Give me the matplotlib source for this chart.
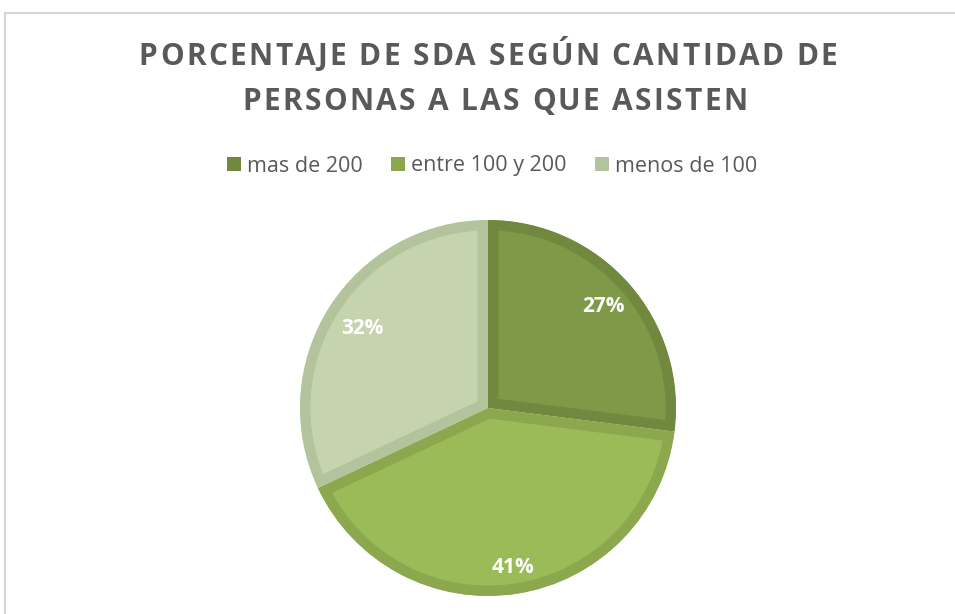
import numpy as np
import matplotlib.pyplot as plt
from matplotlib.lines import Line2D
from matplotlib.font_manager import FontProperties, findfont
from matplotlib.ft2font import FT2Font

categorias = ['mas de 200', 'entre 100 y 200', 'menos de 100']
porcentajes = [27, 41, 32]
etiquetas = ['27%', '41%', '32%']
titulo = ['PORCENTAJE DE SDA SEGÚN CANTIDAD DE', 'PERSONAS A LAS QUE ASISTEN']

relleno = ['#7E9A48', '#9BBB59', '#C5D4AC']
borde = ['#71893F', '#8BA84F', '#B3C49C']
radio_etiqueta = [0.82, 0.86, 0.79]

plt.rcParams['font.family'] = ['Open Sans', 'DejaVu Sans']

DPI = 100
fig = plt.figure(figsize=(9.55, 6.14), dpi=DPI)
fig.patch.set_facecolor('white')


def texto_espaciado(s, xc, yc, size, tracking, **kw):
    # matplotlib no tiene letter-spacing: se coloca letra a letra
    fp = FontProperties(family='Open Sans', weight='bold')
    ft = FT2Font(findfont(fp))
    ft.set_size(size, DPI)
    adv = []
    for ch in s:
        g = ft.load_char(ord(ch))
        adv.append(g.linearHoriAdvance / 65536)
    total = sum(adv) + tracking * (len(s) - 1)
    x = xc - total / 2
    for ch, a in zip(s, adv):
        fig.text(x / 955, 1 - yc / 614, ch, ha='left', va='center',
                 fontsize=size, fontweight='bold', **kw)
        x += a + tracking


# marco del grafico (arriba e izquierda)
fig.add_artist(Line2D([5 / 955, 5 / 955], [0, 1 - 13 / 614], color='#D6D6D6', lw=1.5))
fig.add_artist(Line2D([5 / 955, 1], [1 - 13 / 614, 1 - 13 / 614], color='#D6D6D6', lw=1.5))

texto_espaciado(titulo[0], 488, 57, 21.5, 2.3, color='#595959')
texto_espaciado(titulo[1], 495, 102, 21.5, 2.3, color='#595959')

ax = fig.add_axes([(488 - 200) / 955, (206 - 200) / 614, 400 / 955, 400 / 614])
wedges, _ = ax.pie(porcentajes, colors=relleno, startangle=90, counterclock=False,
                   radius=188, wedgeprops=dict(linewidth=15, joinstyle='miter'))
for w, c in zip(wedges, borde):
    # borde solo hacia dentro de cada porcion
    w.set_edgecolor(c)
    w.set_clip_on(True)
    w.set_clip_path(w)

for w, txt, rf in zip(wedges, etiquetas, radio_etiqueta):
    ang = np.deg2rad((w.theta1 + w.theta2) / 2)
    r = 188 * rf
    ax.text(r * np.cos(ang), r * np.sin(ang), txt, ha='center', va='center',
            fontsize=15, fontweight='bold', color='white')

ax.set_xlim(-200, 200)
ax.set_ylim(-200, 200)
ax.set_aspect('equal')
ax.axis('off')

handles = [plt.Rectangle((0, 0), 1, 1, facecolor=c, edgecolor='none') for c in borde]
fig.legend(handles, categorias, loc='center', bbox_to_anchor=(492 / 955, 1 - 166 / 614),
           ncol=3, frameon=False, fontsize=15.5, handlelength=0.65, handleheight=0.65,
           handletextpad=0.3, columnspacing=1.3, labelcolor='#595959')

fig.savefig('out.png', dpi=DPI)
